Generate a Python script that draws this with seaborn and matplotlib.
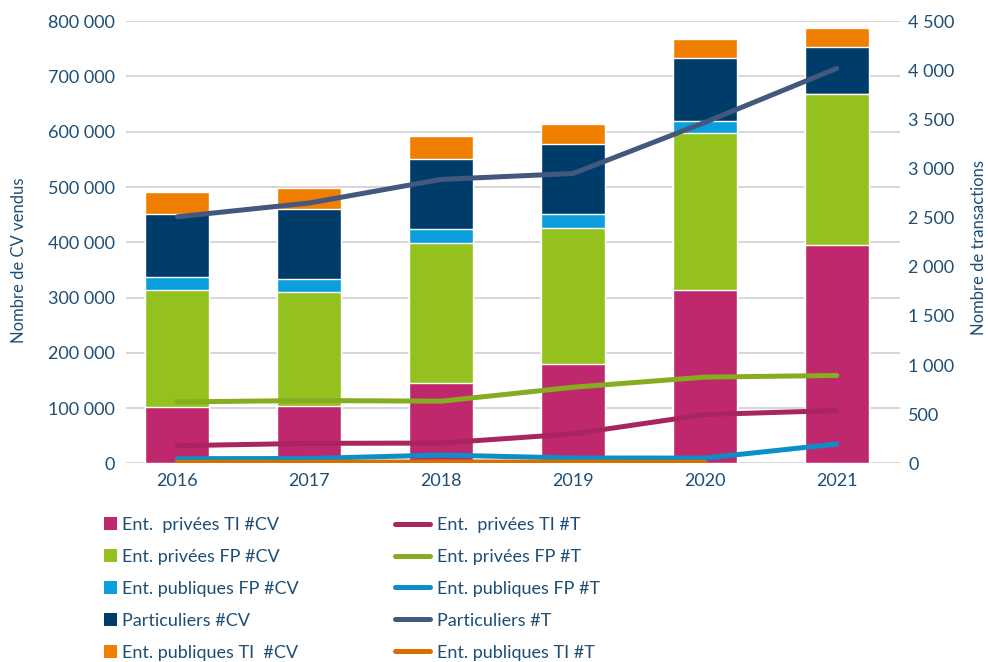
import numpy as np
import pandas as pd
import matplotlib
matplotlib.use("Agg")
import matplotlib.pyplot as plt
import seaborn as sns
from matplotlib.patches import Patch
from matplotlib.lines import Line2D
from matplotlib.ticker import FuncFormatter, MultipleLocator

# ---------------- data ----------------
years = ["2016", "2017", "2018", "2019", "2020", "2021"]

# bars: number of CV sold (left axis), stacked bottom -> top
cv_prive_ti = [102000, 104000, 146000, 179500, 313000, 396000]
cv_prive_fp = [211000, 205500, 252500, 245700, 285600, 273000]
cv_public_fp = [23500, 23500, 25300, 25400, 21700, 0]
cv_particuliers = [114000, 128000, 126500, 126500, 113800, 85000]
cv_public_ti = [41000, 38000, 41600, 36200, 34400, 34400]

# lines: number of transactions (right axis)
t_prive_ti = [180, 204, 207, 300, 497, 538]
t_prive_fp = [626, 640, 633, 775, 878, 895]
t_public_fp = [48, 50, 85, 55, 54, 197]
t_particuliers = [2510, 2650, 2890, 2950, 3470, 4020]
t_public_ti = [12, 12, 15, 13, 12, np.nan]

bar_labels = ["Ent.  privées TI #CV", "Ent. privées FP #CV", "Ent. publiques FP #CV",
              "Particuliers #CV", "Ent. publiques TI  #CV"]
line_labels = ["Ent.  privées TI #T", "Ent. privées FP #T", "Ent. publiques FP #T",
               "Particuliers #T", "Ent. publiques TI #T"]

bar_colors = ["#c0286e", "#95c11f", "#0b9fdb", "#003c69", "#f07f00"]
line_colors = ["#a8255e", "#86ad1f", "#0b8fc8", "#44587f", "#d87000"]

txt = "#1d4e75"

sns.set_theme(style="white")
plt.rcParams["font.family"] = ["Lato", "DejaVu Sans"]

fig = plt.figure(figsize=(9.88, 6.62), dpi=100)
ax = fig.add_axes([0.1275, 0.30, 0.7835, 0.668])

bars = [cv_prive_ti, cv_prive_fp, cv_public_fp, cv_particuliers, cv_public_ti]
cum = np.cumsum(np.array(bars, dtype=float), axis=0)
df = pd.DataFrame({"year": years})
for i in range(len(bars) - 1, -1, -1):
    df["v"] = cum[i]
    sns.barplot(data=df, x="year", y="v", order=years, color=bar_colors[i],
                saturation=1, width=0.485, errorbar=None, ax=ax, zorder=2)

ax.set_ylim(0, 800000)
ax.set_xlim(-0.39, 5.48)
ax.yaxis.set_major_locator(MultipleLocator(100000))
ax.yaxis.set_major_formatter(FuncFormatter(lambda v, p: f"{int(v):,}".replace(",", " ")))
ax.grid(axis="y", color="#d0d0d0", linewidth=1.2)
ax.grid(axis="x", visible=False)
ax.set_axisbelow(True)
for s in ax.spines.values():
    s.set_visible(False)
ax.tick_params(axis="y", length=0, pad=8, labelsize=13, labelcolor=txt)
ax.tick_params(axis="x", length=0, pad=7, labelsize=13, labelcolor=txt)
ax.set_xlabel("")
ax.set_ylabel("Nombre de CV vendus", fontsize=12, color=txt)
ax.yaxis.set_label_coords(-0.128, 0.46)

ax2 = ax.twinx()
lines = [t_prive_ti, t_prive_fp, t_public_fp, t_particuliers, t_public_ti]
xpos = np.arange(len(years))
for vals, c in zip(lines, line_colors):
    sns.lineplot(x=xpos, y=vals, color=c, linewidth=3.6, ax=ax2,
                 solid_capstyle="round", legend=False)
ax2.set_ylim(0, 4500)
ax2.set_xlim(-0.39, 5.48)
ax2.yaxis.set_major_locator(MultipleLocator(500))
ax2.yaxis.set_major_formatter(FuncFormatter(lambda v, p: f"{int(v):,}".replace(",", " ")))
ax2.grid(False)
for s in ax2.spines.values():
    s.set_visible(False)
ax2.tick_params(axis="y", length=0, pad=6, labelsize=13, labelcolor=txt)
ax2.set_ylabel("Nombre de transactions", fontsize=12, color=txt, rotation=90)
ax2.yaxis.set_label_coords(1.092, 0.489)

# legends
bh = [Patch(facecolor=c, edgecolor="none") for c in bar_colors]
lh = [Line2D([0], [0], color=c, linewidth=3.6) for c in line_colors]
leg1 = fig.legend(bh, bar_labels, loc="upper left", bbox_to_anchor=(0.105, 0.219),
                  frameon=False, fontsize=13, handlelength=0.75, handleheight=0.75,
                  handletextpad=0.25, labelspacing=0.88, borderpad=0, borderaxespad=0,
                  labelcolor=txt)
leg2 = fig.legend(lh, line_labels, loc="upper left", bbox_to_anchor=(0.400, 0.219),
                  frameon=False, fontsize=13, handlelength=1.9,
                  handletextpad=0.4, labelspacing=0.88, borderpad=0, borderaxespad=0,
                  labelcolor=txt)

fig.savefig("out.png", dpi=100)
